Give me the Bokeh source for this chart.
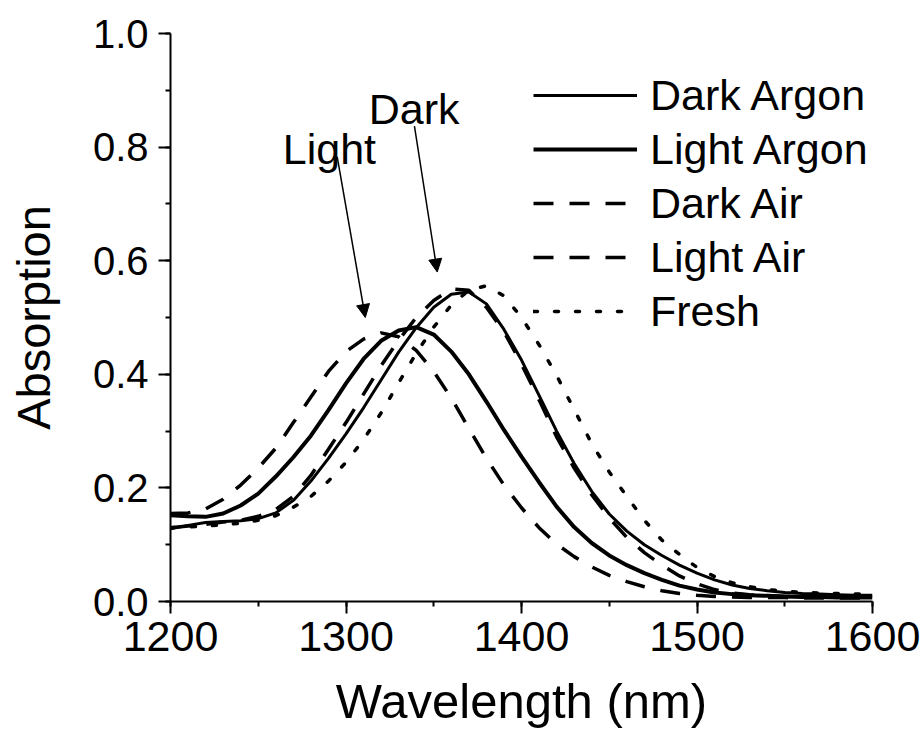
from bokeh.plotting import figure
from bokeh.models import (Legend, LegendItem, Arrow, NormalHead, Label, Range1d,
                          SingleIntervalTicker, PrintfTickFormatter)
from bokeh.embed import file_html
from bokeh.resources import INLINE

# Wavelength grid (nm)
wavelength = [1200, 1210, 1220, 1230, 1240, 1250, 1260, 1270, 1280, 1290,
              1300, 1310, 1320, 1330, 1340, 1350, 1360, 1370, 1380, 1390,
              1400, 1410, 1420, 1430, 1440, 1450, 1460, 1470, 1480, 1490,
              1500, 1510, 1520, 1530, 1540, 1550, 1560, 1570, 1580, 1590, 1600]

dark_argon = [0.128, 0.134, 0.139, 0.141, 0.142, 0.146, 0.156, 0.178, 0.212, 0.252,
              0.295, 0.341, 0.390, 0.439, 0.482, 0.518, 0.541, 0.545, 0.524, 0.479,
              0.425, 0.363, 0.300, 0.243, 0.194, 0.154, 0.124, 0.100, 0.081, 0.064,
              0.050, 0.038, 0.029, 0.023, 0.019, 0.016, 0.014, 0.013, 0.012, 0.011, 0.011]

light_argon = [0.152, 0.150, 0.149, 0.155, 0.169, 0.190, 0.220, 0.254, 0.292, 0.337,
               0.384, 0.427, 0.459, 0.477, 0.483, 0.470, 0.440, 0.400, 0.352, 0.302,
               0.255, 0.210, 0.167, 0.131, 0.103, 0.081, 0.064, 0.050, 0.038, 0.028,
               0.021, 0.016, 0.013, 0.011, 0.010, 0.009, 0.008, 0.008, 0.007, 0.007, 0.007]

dark_air = [0.130, 0.133, 0.136, 0.140, 0.143, 0.150, 0.162, 0.185, 0.222, 0.268,
            0.315, 0.365, 0.415, 0.460, 0.500, 0.530, 0.550, 0.548, 0.518, 0.475,
            0.418, 0.355, 0.290, 0.235, 0.188, 0.147, 0.113, 0.086, 0.064, 0.045,
            0.031, 0.021, 0.015, 0.012, 0.010, 0.009, 0.009, 0.008, 0.008, 0.008, 0.008]

light_air = [0.155, 0.156, 0.163, 0.180, 0.205, 0.235, 0.270, 0.315, 0.360, 0.405,
             0.440, 0.462, 0.473, 0.466, 0.442, 0.405, 0.358, 0.305, 0.252, 0.205,
             0.165, 0.130, 0.101, 0.079, 0.061, 0.046, 0.035, 0.026, 0.019, 0.014,
             0.011, 0.009, 0.008, 0.007, 0.007, 0.007, 0.006, 0.006, 0.006, 0.006, 0.006]

fresh = [0.130, 0.131, 0.133, 0.135, 0.138, 0.143, 0.151, 0.166, 0.185, 0.212,
         0.245, 0.285, 0.332, 0.385, 0.437, 0.483, 0.522, 0.548, 0.556, 0.538,
         0.500, 0.452, 0.398, 0.338, 0.278, 0.228, 0.185, 0.143, 0.108, 0.083,
         0.060, 0.044, 0.033, 0.026, 0.021, 0.018, 0.016, 0.015, 0.014, 0.013, 0.013]

series_names = ["Dark Argon", "Light Argon", "Dark Air", "Light Air", "Fresh"]

FONT = "Liberation Sans"

p = figure(width=923, height=734, x_range=Range1d(1200, 1600), y_range=Range1d(0, 1),
           output_backend="svg", toolbar_location=None,
           min_border_left=170, min_border_right=51, min_border_top=33, min_border_bottom=133)
p.outline_line_color = None
p.xgrid.visible = False
p.ygrid.visible = False
p.background_fill_color = "white"
p.border_fill_color = "white"

r_da = p.line(wavelength, dark_argon, line_color="black", line_width=3)
r_la = p.line(wavelength, light_argon, line_color="black", line_width=4)
r_dair = p.line(wavelength, dark_air, line_color="black", line_width=3.5, line_dash="20 16")
r_lair = p.line(wavelength, light_air, line_color="black", line_width=3.5, line_dash="20 16")
r_fr = p.line(wavelength, fresh, line_color="black", line_width=3.5, line_dash="4 17", line_cap="round")

# axes
p.xaxis.ticker = SingleIntervalTicker(interval=100, num_minor_ticks=2)
p.yaxis.ticker = SingleIntervalTicker(interval=0.2, num_minor_ticks=2)
p.yaxis.formatter = PrintfTickFormatter(format="%.1f")
for ax in (p.xaxis[0], p.yaxis[0]):
    ax.axis_line_width = 2
    ax.major_tick_line_width = 2
    ax.minor_tick_line_width = 2
    ax.major_tick_out = 12
    ax.major_tick_in = 0
    ax.minor_tick_out = 5
    ax.minor_tick_in = 0
    ax.major_label_text_font = FONT
    ax.major_label_text_color = "black"
    ax.axis_label_text_font = FONT
    ax.axis_label_text_font_style = "normal"
    ax.axis_label_text_color = "black"
    ax.axis_line_color = "black"
    ax.major_tick_line_color = "black"
    ax.minor_tick_line_color = "black"

p.xaxis.major_label_text_font_size = "43px"
p.yaxis.major_label_text_font_size = "40px"
p.xaxis.major_label_standoff = 8
p.yaxis.major_label_standoff = 10
p.xaxis.axis_label = "Wavelength (nm)"
p.yaxis.axis_label = "Absorption"
p.xaxis.axis_label_text_font_size = "49px"
p.yaxis.axis_label_text_font_size = "47px"
p.xaxis.axis_label_standoff = 20
p.yaxis.axis_label_standoff = 30

legend = Legend(items=[LegendItem(label=n, renderers=[r]) for n, r in
                       zip(series_names, [r_da, r_la, r_dair, r_lair, r_fr])],
                location=(363, 263), padding=0, margin=0, spacing=0,
                glyph_width=104, glyph_height=54, label_standoff=13,
                label_text_font=FONT, label_text_font_size="43px",
                label_text_color="black",
                border_line_alpha=0, background_fill_alpha=0)
p.add_layout(legend)

# arrows pointing at the shifted peaks
light_arrow = dict(x0=1295, y0=0.783, x1=1311, y1=0.50)
dark_arrow = dict(x0=1339, y0=0.837, x1=1352, y1=0.58)
for a in (light_arrow, dark_arrow):
    p.add_layout(Arrow(end=NormalHead(size=13, fill_color="black", line_color="black", line_width=1),
                       x_start=a["x0"], y_start=a["y0"], x_end=a["x1"], y_end=a["y1"],
                       line_width=1.5, line_color="black"))

p.add_layout(Label(x=1264, y=0.797, text="Light", text_font=FONT, text_font_size="43px",
                   text_baseline="alphabetic", text_color="black"))
p.add_layout(Label(x=1313, y=0.867, text="Dark", text_font=FONT, text_font_size="43px",
                   text_baseline="alphabetic", text_color="black"))

open("out.html", "w").write(file_html(p, INLINE))
